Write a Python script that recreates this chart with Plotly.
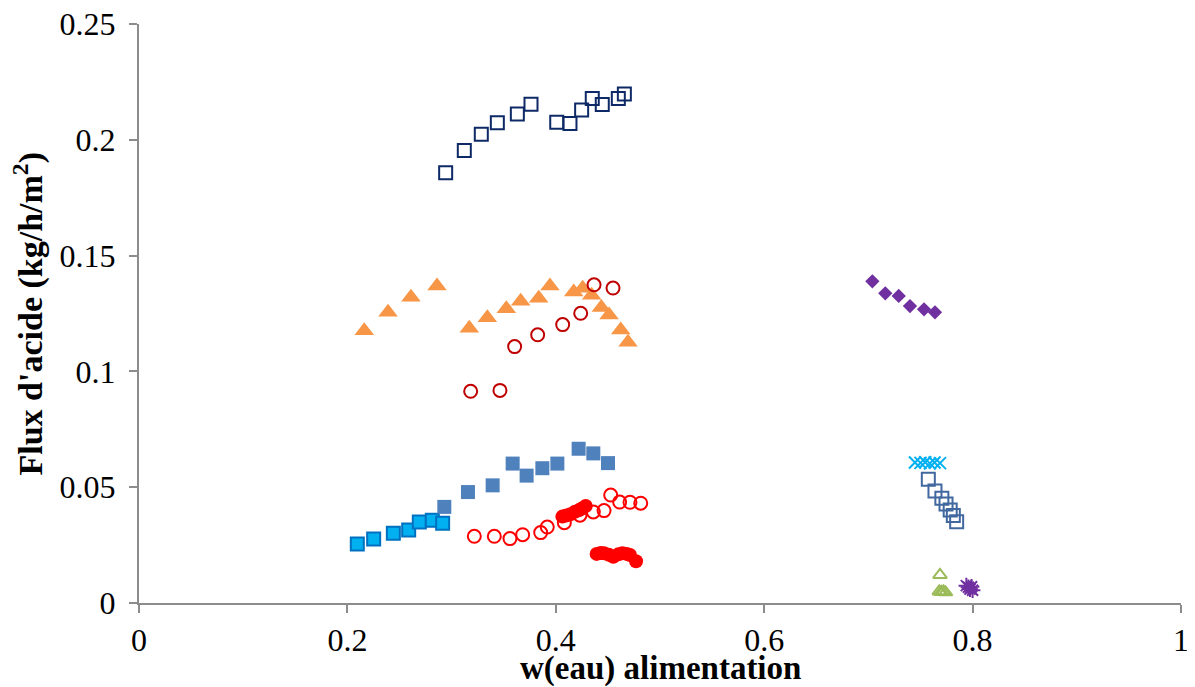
import plotly.graph_objects as go

# ---- data ----
navy_sq_x = [0.2943, 0.3122, 0.3285, 0.3439, 0.3631, 0.3762, 0.4009, 0.4136, 0.4248, 0.4350, 0.4446, 0.4600, 0.4658]
navy_sq_y = [0.1858, 0.1954, 0.2024, 0.2074, 0.2111, 0.2153, 0.2076, 0.2070, 0.2129, 0.2178, 0.2152, 0.2178, 0.2198]

orange_tri_x = [0.2162, 0.2390, 0.2610, 0.2860, 0.3170, 0.3343, 0.3525, 0.3663, 0.3836, 0.3944,
                0.4172, 0.4258, 0.4344, 0.4437, 0.4511, 0.4623, 0.4693]
orange_tri_y = [0.1176, 0.1255, 0.1320, 0.1369, 0.1186, 0.1232, 0.1271, 0.1303, 0.1316, 0.1369,
                0.1343, 0.1359, 0.1329, 0.1276, 0.1244, 0.1179, 0.1126]

darkred_circ_x = [0.3183, 0.3464, 0.3605, 0.3826, 0.4066, 0.4239, 0.4367, 0.4549]
darkred_circ_y = [0.0914, 0.0918, 0.1107, 0.1158, 0.1202, 0.1251, 0.1374, 0.1360]

steel_sq_x = [0.2930, 0.3157, 0.3394, 0.3586, 0.3720, 0.3871, 0.4015, 0.4219, 0.4360, 0.4501]
steel_sq_y = [0.0415, 0.0479, 0.0508, 0.0602, 0.0550, 0.0582, 0.0602, 0.0666, 0.0646, 0.0604]

lblue_sq_x = [0.2095, 0.2252, 0.2441, 0.2588, 0.2690, 0.2815, 0.2914]
lblue_sq_y = [0.0255, 0.0276, 0.0301, 0.0315, 0.0350, 0.0357, 0.0344]

red_open_x = [0.3218, 0.3410, 0.3560, 0.3682, 0.3855, 0.3918, 0.4082, 0.4232, 0.4360, 0.4463,
              0.4527, 0.4613, 0.4712, 0.4815]
red_open_y = [0.0288, 0.0288, 0.0278, 0.0295, 0.0304, 0.0328, 0.0347, 0.0379, 0.0393, 0.0399,
              0.0466, 0.0436, 0.0435, 0.0431]

red_fill_x = [0.4063, 0.4100, 0.4140, 0.4184, 0.4220, 0.4250, 0.4287,
              0.4392, 0.4430, 0.4463, 0.4510, 0.4552, 0.4600, 0.4639, 0.4680, 0.4712, 0.4770]
red_fill_y = [0.0373, 0.0378, 0.0383, 0.0394, 0.0400, 0.0408, 0.0419,
              0.0212, 0.0216, 0.0215, 0.0208, 0.0200, 0.0210, 0.0215, 0.0212, 0.0207, 0.0180]

purple_dia_x = [0.7038, 0.7162, 0.7291, 0.7399, 0.7534, 0.7639]
purple_dia_y = [0.1389, 0.1337, 0.1326, 0.1282, 0.1268, 0.1255]

lblue_x_x = [0.7447, 0.7500, 0.7545, 0.7590, 0.7635, 0.7687]
lblue_x_y = [0.0607, 0.0605, 0.0608, 0.0603, 0.0607, 0.0604]

blue_open_sq_x = [0.7575, 0.7639, 0.7705, 0.7745, 0.7785, 0.7815, 0.7847]
blue_open_sq_y = [0.0534, 0.0484, 0.0452, 0.0427, 0.0402, 0.0378, 0.0351]

green_tri_x = [0.7687, 0.7680, 0.7700, 0.7720, 0.7740]
green_tri_y = [0.0121, 0.0050, 0.0048, 0.0050, 0.0046]

purple_star_x = [0.7940, 0.7960, 0.7975, 0.7990, 0.8000]
purple_star_y = [0.0075, 0.0068, 0.0060, 0.0070, 0.0055]

x_ticks = [0, 0.2, 0.4, 0.6, 0.8, 1]
x_tick_text = ["0", "0.2", "0.4", "0.6", "0.8", "1"]
y_ticks = [0, 0.05, 0.1, 0.15, 0.2, 0.25]
y_tick_text = ["0", "0.05", "0.1", "0.15", "0.2", "0.25"]

x_title = "<b>w(eau) alimentation</b>"
y_title = "<b>Flux d'acide (kg/h/m<sup>2</sup>)</b>"

fig = go.Figure()

def add(x, y, symbol, size, color, line_color=None, line_width=0):
    fig.add_trace(go.Scatter(
        x=x, y=y, mode="markers",
        marker=dict(symbol=symbol, size=size, color=color,
                    line=dict(color=line_color or color, width=line_width)),
        showlegend=False, hoverinfo="x+y"))

add(navy_sq_x, navy_sq_y, "square-open", 13, "#0E2A66", line_width=2)
add(orange_tri_x, orange_tri_y, "triangle-up", 17, "#F79646")
add(darkred_circ_x, darkred_circ_y, "circle-open", 13, "#C00000", line_width=2)
add(lblue_sq_x, lblue_sq_y, "square", 13, "#00B0F0", "#0070C0", 2)
add(steel_sq_x, steel_sq_y, "square", 14, "#4F81BD")
add(red_open_x, red_open_y, "circle-open", 13, "#FF0000", line_width=2)
add(red_fill_x, red_fill_y, "circle", 14, "#FF0000")
add(purple_dia_x, purple_dia_y, "diamond", 11, "#7030A0")
add(lblue_x_x, lblue_x_y, "x-thin-open", 12, "#00B0F0", line_width=2)
add(blue_open_sq_x, blue_open_sq_y, "square-open", 13, "#41689F", line_width=2)
add(green_tri_x, green_tri_y, "triangle-up-open", 12, "#9BBB59", line_width=2)
add(purple_star_x, purple_star_y, "asterisk-open", 13, "#7030A0", line_width=2)

serif = "Liberation Serif, DejaVu Serif, serif"
tick_font = dict(family=serif, size=32, color="#000")

axis_common = dict(showgrid=False, zeroline=False, showline=True, linecolor="#8C8C8C", linewidth=2,
                   ticks="outside", ticklen=8, tickcolor="#8C8C8C", tickwidth=2,
                   tickfont=tick_font, automargin=False, ticklabeloverflow="allow")

# page body has an 8px default margin: figure is shrunk/offset so the plot area
# lands at x 139..1181, y 24..603 in the 1195x687 window
fig.update_layout(
    width=1187, height=679,
    margin=dict(l=131, r=14, t=16, b=84),
    paper_bgcolor="white", plot_bgcolor="white",
    xaxis=dict(range=[0, 1], tickvals=x_ticks, ticktext=x_tick_text, **axis_common),
    yaxis=dict(range=[0, 0.25], tickvals=y_ticks, ticktext=y_tick_text,
               ticklabelstandoff=7, **axis_common),
    annotations=[
        dict(text=x_title, xref="paper", yref="paper", x=0.5, y=-0.1123,
             xanchor="center", yanchor="middle", showarrow=False,
             font=dict(family=serif, size=33, color="#000")),
        dict(text=y_title, xref="paper", yref="paper", x=-0.1065, y=0.5,
             xanchor="center", yanchor="middle", textangle=-90, showarrow=False,
             font=dict(family=serif, size=34, color="#000")),
    ],
)

fig.write_html("out.html")
